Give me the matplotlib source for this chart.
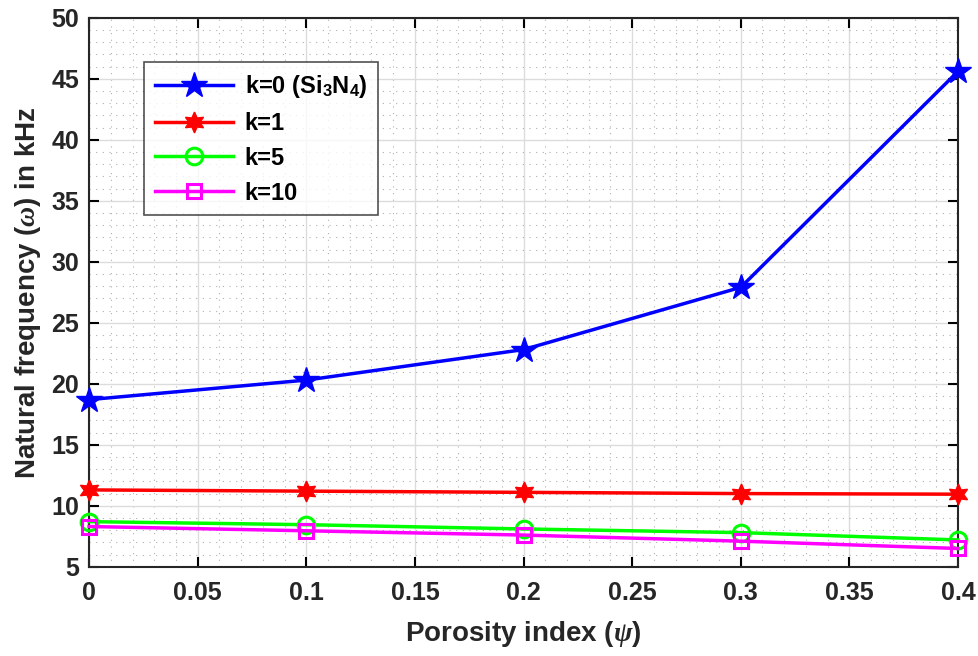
import numpy as np
import matplotlib.pyplot as plt
from matplotlib.ticker import MultipleLocator

plt.rcParams['font.family'] = ['Liberation Sans', 'DejaVu Sans']
plt.rcParams['font.weight'] = 'bold'
plt.rcParams['mathtext.fontset'] = 'custom'
plt.rcParams['mathtext.rm'] = 'Liberation Sans:bold'
plt.rcParams['mathtext.it'] = 'Liberation Serif:italic'

psi = [0, 0.1, 0.2, 0.3, 0.4]
k0 = [18.7, 20.3, 22.8, 27.9, 45.6]
k1 = [11.3, 11.2, 11.1, 11.0, 10.95]
k5 = [8.7, 8.45, 8.1, 7.8, 7.2]
k10 = [8.3, 7.95, 7.6, 7.1, 6.5]
xtick_labels = ['0', '0.05', '0.1', '0.15', '0.2', '0.25', '0.3', '0.35', '0.4']

fig = plt.figure(figsize=(9.79, 6.56), dpi=100)
ax = fig.add_axes([0.091, 0.136, 0.8875, 0.837])

ax.plot(psi, k0, '-b', marker='*', ms=19, lw=2.5, clip_on=False, zorder=5,
        label=r'k=0 (Si$_\mathrm{3}$N$_\mathrm{4}$)')
ax.plot(psi, k1, '-r', marker=(6, 1, 0), ms=15, lw=2.5, clip_on=False, zorder=5, label='k=1')
ax.plot(psi, k5, '-', color='#00ff00', marker='o', ms=12, mfc='none', mew=2.2, lw=2.5,
        clip_on=False, zorder=5, label='k=5')
ax.plot(psi, k10, '-', color='#ff00ff', marker='s', ms=10, mfc='none', mew=2.2, lw=2.5,
        clip_on=False, zorder=5, label='k=10')

ax.set_xlim(0, 0.4)
ax.set_ylim(5, 50)
ax.set_xticks(np.arange(0, 0.401, 0.05))
ax.set_xticklabels(xtick_labels)
ax.xaxis.set_minor_locator(MultipleLocator(0.01))
ax.yaxis.set_major_locator(MultipleLocator(5))
ax.yaxis.set_minor_locator(MultipleLocator(1))

ax.grid(True, which='major', color='#dcdcdc', lw=1)
ax.grid(True, which='minor', color='#b0b0b0', ls=(0, (1, 5)), lw=0.8)
ax.tick_params(which='both', direction='in', top=True, right=True, labelsize=18, width=1.5)
ax.tick_params(which='major', length=7)
ax.tick_params(which='minor', length=0)
for s in ax.spines.values():
    s.set_linewidth(1.5)
    s.set_color('#262626')
for t in ax.get_xticklabels() + ax.get_yticklabels():
    t.set_fontweight('bold')
    t.set_color('#262626')
ax.tick_params(axis='x', pad=10)
ax.tick_params(axis='y', pad=7)

ax.set_xlabel(r'Porosity index ($\psi$)', fontsize=20, fontweight='bold', color='#262626',
              labelpad=10)
ax.set_ylabel(r'Natural frequency ($\omega$) in kHz', fontsize=20, fontweight='bold',
              color='#262626', labelpad=6)

leg = ax.legend(loc='upper left', bbox_to_anchor=(0.05, 0.94), fontsize=17, frameon=True,
                fancybox=False, edgecolor='#262626', handlelength=3.3, borderpad=0.45,
                labelspacing=0.5, handletextpad=0.5)
leg.get_frame().set_linewidth(1.2)
for t in leg.get_texts():
    t.set_fontweight('bold')

fig.savefig('out.png', dpi=100)
